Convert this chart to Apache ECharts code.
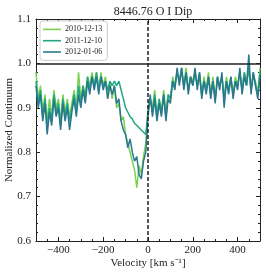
<!DOCTYPE html>
<html><head><meta charset="utf-8">
<script src="https://cdn.jsdelivr.net/npm/echarts@6/dist/echarts.min.js"></script>
<style>html,body{margin:0;padding:0;background:#fff}#c{width:266px;height:275px}</style>
</head><body><div id="c"></div>
<script>
const velocity = [-500,-490,-480,-470,-460,-450,-440,-430,-420,-410,-400,-390,-380,-370,-360,-350,-340,-330,-320,-310,-300,-290,-280,-270,-260,-250,-240,-230,-220,-210,-200,-190,-180,-170,-160,-150,-140,-130,-120,-110,-100,-90,-80,-70,-60,-50,-40,-30,-20,-10,0,10,20,30,40,50,60,70,80,90,100,110,120,130,140,150,160,170,180,190,200,210,220,230,240,250,260,270,280,290,300,310,320,330,340,350,360,370,380,390,400,410,420,430,440,450,460,470,480,490,500];
const seriesNames = ['2010-12-13','2011-12-10','2012-01-06'];
const flux2010 = [0.98,0.92,0.95,0.89,0.93,0.87,0.92,0.88,0.94,0.90,0.92,0.87,0.93,0.89,0.92,0.88,0.91,0.94,0.90,0.98,0.92,0.95,0.93,0.97,0.95,0.98,0.95,0.98,0.94,0.98,0.95,0.97,0.93,0.96,0.92,0.95,0.90,0.91,0.87,0.88,0.84,0.82,0.80,0.78,0.76,0.72,0.77,0.75,0.79,0.82,0.90,0.92,0.90,0.94,0.88,0.92,0.89,0.94,0.89,0.93,0.92,0.97,0.95,0.98,0.96,0.98,0.95,0.99,0.94,0.97,0.96,0.98,0.95,0.97,0.93,0.97,0.94,0.98,0.93,0.97,0.92,0.96,0.95,0.97,0.92,0.97,0.94,0.96,0.93,0.97,0.95,0.98,0.94,0.98,0.96,0.99,0.94,0.97,0.96,0.93,0.99];
const flux2011 = [0.96,0.91,0.94,0.88,0.92,0.86,0.90,0.87,0.93,0.89,0.91,0.86,0.92,0.88,0.91,0.87,0.90,0.93,0.89,0.95,0.91,0.95,0.92,0.97,0.94,0.97,0.95,0.98,0.94,0.97,0.95,0.96,0.94,0.96,0.95,0.96,0.95,0.96,0.94,0.92,0.90,0.89,0.88,0.875,0.865,0.86,0.855,0.85,0.845,0.84,0.89,0.92,0.89,0.93,0.88,0.92,0.89,0.93,0.88,0.93,0.92,0.96,0.95,0.98,0.96,0.99,0.95,0.98,0.94,0.97,0.95,0.98,0.95,0.98,0.93,0.96,0.94,0.97,0.93,0.96,0.92,0.97,0.95,0.97,0.92,0.96,0.94,0.97,0.93,0.96,0.95,0.98,0.94,0.98,0.95,0.99,0.94,0.98,0.95,0.93,0.98];
const flux2012 = [0.95,0.90,0.93,0.87,0.91,0.84,0.89,0.86,0.92,0.88,0.90,0.85,0.91,0.87,0.90,0.85,0.89,0.92,0.88,0.93,0.90,0.94,0.91,0.96,0.93,0.97,0.94,0.97,0.93,0.97,0.94,0.96,0.92,0.95,0.93,0.95,0.91,0.92,0.87,0.85,0.84,0.81,0.83,0.80,0.78,0.79,0.75,0.74,0.78,0.80,0.88,0.93,0.88,0.92,0.87,0.91,0.88,0.93,0.87,0.92,0.91,0.96,0.94,0.99,0.95,0.99,0.94,0.98,0.93,0.97,0.95,0.99,0.94,0.98,0.92,0.96,0.93,0.97,0.92,0.96,0.91,0.97,0.94,0.98,0.90,0.96,0.93,0.97,0.92,0.96,0.94,0.99,0.93,0.97,0.95,1.02,0.93,0.98,0.95,0.92,0.97];
const xTicks = [-400,-200,0,200,400];
const colors = ['#7ad151','#22a884','#2a788e'];

const font = 'Liberation Serif';
const pair = arr => velocity.map((v,i)=>[v,arr[i]]);
const fmtX = v => String(v).replace('-', '\u2212');
const chart = echarts.init(document.getElementById('c'), null, {renderer:'canvas'});
const axCommon = {type:'value', min:-500, max:500, interval:50};
const tickCol = {color:'#222', width:1};
chart.setOption({
  animation:false,
  color: colors,
  title:{text:'8446.76 O I Dip', left:148, textAlign:'center', top:1,
    textStyle:{fontFamily:font, fontSize:12, fontWeight:'normal', color:'#222'}},
  grid:{left:36, right:6, top:19, bottom:34, show:false, containLabel:false, outerBoundsMode:'none'},
  legend:{orient:'vertical', left:40, top:21, data:seriesNames,
    icon:'rect', itemWidth:18, itemHeight:1.6, itemGap:0.5,
    padding:[3,5,3,3], borderColor:'#cccccc', borderWidth:1, borderRadius:3, backgroundColor:'#fff',
    textStyle:{fontFamily:font, fontSize:8, color:'#222', lineHeight:10.8, padding:[0,0,0,-1]}},
  xAxis:[
    Object.assign({}, axCommon, {position:'bottom',
      name:'Velocity [km s\u207B\u00B9]', nameLocation:'middle', nameGap:17, nameMoveOverlap:false,
      nameTextStyle:{fontFamily:font, fontSize:11, color:'#222'},
      axisLine:{show:true, onZero:false, lineStyle:tickCol},
      axisTick:{show:true, inside:true, length:2, lineStyle:tickCol},
      axisLabel:{customValues:xTicks, formatter:fmtX, fontFamily:font, fontSize:11, color:'#222', margin:4},
      splitLine:{show:false}}),
    Object.assign({}, axCommon, {position:'bottom',
      axisLine:{show:false, onZero:false},
      axisTick:{show:true, inside:true, length:4, customValues:xTicks, lineStyle:tickCol},
      axisLabel:{show:false}, splitLine:{show:false}}),
    Object.assign({}, axCommon, {position:'top',
      axisLine:{show:true, onZero:false, lineStyle:tickCol},
      axisTick:{show:true, inside:true, length:2, lineStyle:tickCol},
      axisLabel:{show:false}, splitLine:{show:false}}),
    Object.assign({}, axCommon, {position:'top',
      axisLine:{show:false, onZero:false},
      axisTick:{show:true, inside:true, length:4, customValues:xTicks, lineStyle:tickCol},
      axisLabel:{show:false}, splitLine:{show:false}})
  ],
  yAxis:[
    {type:'value', min:0.6, max:1.1, interval:0.1, position:'left',
      name:'Normalized Continuum', nameLocation:'middle', nameGap:21, nameMoveOverlap:false,
      nameTextStyle:{fontFamily:font, fontSize:11, color:'#222'},
      axisLine:{show:true, onZero:false, lineStyle:tickCol},
      axisTick:{show:true, inside:true, length:4, lineStyle:tickCol},
      minorTick:{show:true, splitNumber:5, length:2, lineStyle:tickCol},
      axisLabel:{formatter:v=>v.toFixed(1), fontFamily:font, fontSize:11, color:'#222', margin:5},
      splitLine:{show:false}},
    {type:'value', min:0.6, max:1.1, interval:0.1, position:'right',
      axisLine:{show:true, onZero:false, lineStyle:tickCol},
      axisTick:{show:true, inside:true, length:4, lineStyle:tickCol},
      minorTick:{show:true, splitNumber:5, length:2, lineStyle:tickCol},
      axisLabel:{show:false}, splitLine:{show:false}}
  ],
  series:[
    {name:seriesNames[0], type:'line', data:pair(flux2010), showSymbol:false, symbol:'none', lineStyle:{width:1.5}, z:2},
    {name:seriesNames[1], type:'line', data:pair(flux2011), showSymbol:false, symbol:'none', lineStyle:{width:1.5}, z:3},
    {name:seriesNames[2], type:'line', data:pair(flux2012), showSymbol:false, symbol:'none', lineStyle:{width:1.5}, z:4,
      markLine:{silent:true, symbol:'none', label:{show:false}, animation:false,
        data:[
          {yAxis:1.0, lineStyle:{color:'#222', width:1.5, type:'solid'}},
          {xAxis:0, lineStyle:{color:'#222', width:1.5, type:[4,2]}}
        ]}}
  ]
});
</script></body></html>
